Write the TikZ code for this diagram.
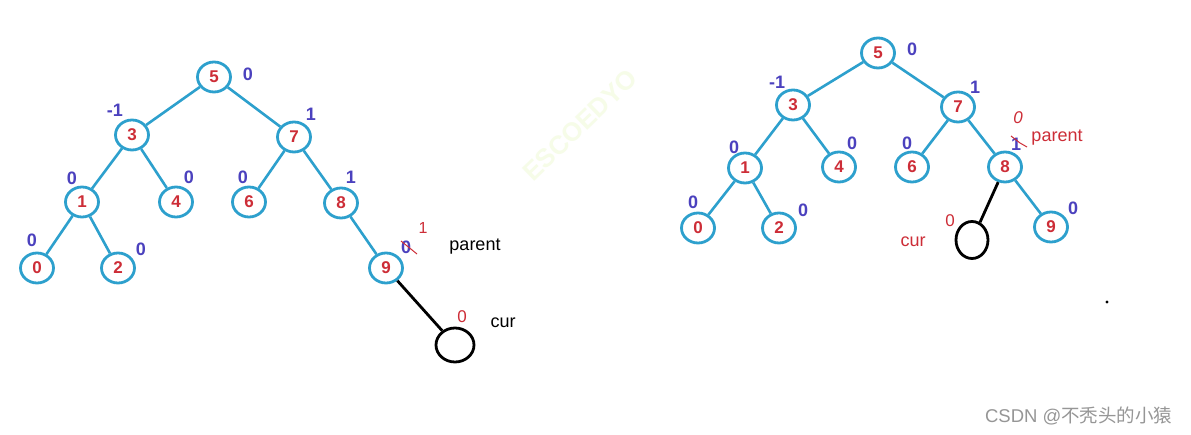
\documentclass[tikz,border=0pt]{standalone}
\usepackage{fontspec}
\setmainfont{Liberation Sans}
\newfontfamily\cjkfont{Noto Sans CJK SC}
\usetikzlibrary{shapes.geometric}
\definecolor{TreeCyan}{RGB}{45,160,205}
\definecolor{KeyRed}{RGB}{205,45,55}
\definecolor{BfBlue}{RGB}{75,65,190}
\definecolor{MarkGray}{RGB}{150,150,150}
\definecolor{WaterTint}{RGB}{246,252,232}
\tikzset{
  tn/.style={ellipse,draw=TreeCyan,line width=2.8pt,fill=white,minimum width=33pt,
    minimum height=30pt,inner sep=0pt,text=KeyRed,font=\bfseries\fontsize{17}{17}\selectfont},
  curn/.style={ellipse,draw=black,line width=2.8pt,inner sep=0pt},
  edge/.style={draw=TreeCyan,line width=2.6pt},
  newedge/.style={draw=black,line width=2.8pt},
  bf/.style={text=BfBlue,font=\bfseries\fontsize{18}{18}\selectfont,inner sep=0pt},
  note/.style={font=\fontsize{18}{18}\selectfont,inner sep=0pt},
  hand/.style={text=KeyRed,font=\itshape\fontsize{17}{17}\selectfont,inner sep=0pt},
  scratch/.style={draw=KeyRed,line width=1pt},
}

\begin{document}
\begin{tikzpicture}[x=1pt,y=-1pt]
\fill[white] (0,0) rectangle (1191,435);
\useasboundingbox (0,0) rectangle (1191,435);
\node[rotate=44,text=WaterTint,font=\bfseries\fontsize{26}{26}\selectfont] (wm) at (580,125) {ESCOEDYO};
% left tree: 9 gets the new child
\foreach \n/\x/\y in {5/214/77,3/132/135,7/294/137,1/82/202,4/176/202,6/249/202,8/341/203,0/37/268,2/118/268,9/386/268}
  \node[tn] (l\n) at (\x,\y) {\n};
\foreach \u/\w in {5/3,5/7,3/1,3/4,7/6,7/8,1/0,1/2,8/9} \draw[edge] (l\u)--(l\w);
\node[curn,minimum width=38pt,minimum height=34pt] (lcur) at (455,345) {};
\draw[newedge] (l9)--(lcur);
\foreach \n/\x/\y/\t in {5/248/74/0,3/115/110/-1,7/311/114/1,1/72/178/0,4/189/177/0,6/243/177/0,8/351/177/1,0/32/240/0,2/141/249/0,9/406/247/0}
  \node[bf] (lb\n) at (\x,\y) {\t};
\draw[scratch] (401,241)--(417,254);
\node[hand,font=\fontsize{16}{16}\selectfont] (lfix) at (423,228) {1};
\node[note] (lpar) at (475,247) {parent};
\node[hand,font=\fontsize{17}{17}\selectfont] (lcb) at (462,317) {0};
\node[note] (lcurt) at (503,323) {cur};
% right tree: 8 gets the new child
\foreach \n/\x/\y in {5/878/53,3/793/105,7/958/107,1/745/168,4/839/167,6/912/167,8/1005/167,0/698/228,2/779/228,9/1051/227}
  \node[tn] (r\n) at (\x,\y) {\n};
\foreach \u/\w in {5/3,5/7,3/1,3/4,7/6,7/8,1/0,1/2,8/9} \draw[edge] (r\u)--(r\w);
\node[curn,minimum width=32pt,minimum height=37pt] (rcur) at (972,240) {};
\draw[newedge] (r8)--(rcur);
\foreach \n/\x/\y/\t in {5/912/49/0,3/777/82/-1,7/975/87/1,1/734/147/0,4/852/143/0,6/907/143/0,8/1016/144/1,0/693/202/0,2/803/210/0,9/1073/208/0}
  \node[bf] (rb\n) at (\x,\y) {\t};
\draw[scratch] (1011,136)--(1020,143)--(1027,147);
\node[hand] (rfix) at (1018,118) {0};
\node[note,text=KeyRed] (rpar) at (1057,138) {parent};
\node[hand,font=\fontsize{17}{17}\selectfont] (rcb) at (950,221) {0};
\node[note,text=KeyRed] (rcurt) at (913,242) {cur};
\fill (1107,302) circle (1.6pt);
\node[anchor=east,text=MarkGray,font=\fontsize{18.5}{18.5}\selectfont] (mark) at (1176,416) {CSDN @{\cjkfont 不秃头的小猿}};
\end{tikzpicture}
\end{document}
